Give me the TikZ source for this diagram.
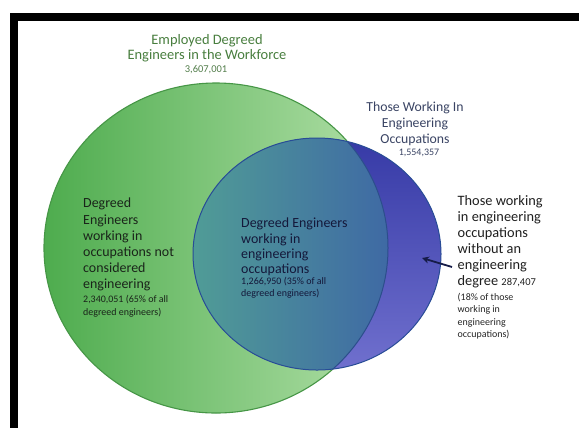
\documentclass[tikz,border=0pt]{standalone}
\usepackage{fontspec}
\setmainfont{Carlito}
\usetikzlibrary{arrows.meta}

\definecolor{gLeft}{RGB}{78,172,78}
\definecolor{gRight}{RGB}{178,224,168}
\definecolor{gEdge}{RGB}{70,150,70}
\definecolor{ovLeft}{RGB}{80,156,150}
\definecolor{ovRight}{RGB}{58,92,168}
\definecolor{crTop}{RGB}{54,58,166}
\definecolor{crMid}{RGB}{58,62,172}
\definecolor{crBot}{RGB}{112,112,206}
\definecolor{bEdge}{RGB}{40,76,150}
\definecolor{innerEdge}{RGB}{44,78,140}
\definecolor{titleGreen}{RGB}{72,126,62}
\definecolor{titleBlue}{RGB}{58,68,100}
\definecolor{darkGreenText}{RGB}{26,36,26}
\definecolor{navyText}{RGB}{20,24,58}
\definecolor{arrowNavy}{RGB}{22,28,72}

\tikzset{
  bigtext/.style={font=\fontsize{14}{16.2}\selectfont, inner sep=0pt},
  smalltext/.style={font=\fontsize{10}{12.5}\selectfont, inner sep=0pt},
  labeltext/.style={font=\fontsize{13.8}{16}\selectfont, inner sep=0pt, align=center},
}

\begin{document}
\begin{tikzpicture}[x=1bp,y=-1bp]
\useasboundingbox (0,0) rectangle (579,428);
\fill[white] (0,0) rectangle (579,428);

% black frame bars (top and left)
\fill[black] (10,13) rectangle (579,21);
\fill[black] (10,13) rectangle (18,428);

% set of all employed degreed engineers
\shade[left color=gLeft, right color=gRight] (216,248) ellipse [x radius=172bp, y radius=165bp];
\draw[gEdge, line width=1.1bp] (216,248) ellipse [x radius=172bp, y radius=165bp];

% set of those working in engineering occupations
\shade[top color=crTop, middle color=crMid, bottom color=crBot] (317,254) ellipse [x radius=124bp, y radius=116bp];

% intersection of both sets
\begin{scope}
  \clip (216,248) ellipse [x radius=172bp, y radius=165bp];
  \shade[left color=ovLeft, right color=ovRight] (317,254) ellipse [x radius=124bp, y radius=116bp];
\end{scope}

% green boundary seen through the blue set
\begin{scope}
  \clip (317,254) ellipse [x radius=124bp, y radius=116bp];
  \draw[innerEdge, line width=1bp] (216,248) ellipse [x radius=172bp, y radius=165bp];
\end{scope}
\draw[bEdge, line width=1bp] (317,254) ellipse [x radius=124bp, y radius=116bp];

% titles
\node[labeltext, font=\fontsize{14.5}{16}\selectfont, text=titleGreen, anchor=base] (titleA) at (207,44) {Employed Degreed};
\node[labeltext, font=\fontsize{14.5}{16}\selectfont, text=titleGreen, anchor=base] (titleB) at (207,59.5) {Engineers in the Workforce};
\node[smalltext, font=\fontsize{10.5}{12}\selectfont, text=titleGreen!80!gray, anchor=base] (titleN) at (206,72.5) {3,607,001};

\node[labeltext, text=titleBlue, anchor=base] (occA) at (415,111) {Those Working In};
\node[labeltext, text=titleBlue, anchor=base] (occB) at (415,127) {Engineering};
\node[labeltext, text=titleBlue, anchor=base] (occC) at (415,143) {Occupations};
\node[smalltext, text=titleBlue, anchor=base] (occN) at (419,155) {1,554,357};

% green-only region
\node[bigtext, text=darkGreenText, align=left, anchor=north west] (notEng) at (83,198)
  {Degreed\\Engineers\\working in\\occupations not\\considered\\engineering};
\node[smalltext, text=darkGreenText, align=left, anchor=north west] (notEngN) at (83,295.5)
  {2,340,051 (65\% of all\\degreed engineers)};

% intersection region
\node[bigtext, font=\fontsize{14}{15.2}\selectfont, text=navyText, align=left, anchor=north west] (inEng) at (241,218)
  {Degreed Engineers\\working in\\engineering\\occupations};
\node[smalltext, font=\fontsize{10}{11.5}\selectfont, text=navyText, align=left, anchor=north west] (inEngN) at (241,277.5)
  {1,266,950 (35\% of all\\degreed engineers)};

% blue-only region, described outside the circle
\node[bigtext, font=\fontsize{14.4}{16.2}\selectfont, text=black!88, align=left, anchor=north west] (noDeg) at (457.5,195)
  {Those working\\in engineering\\occupations\\without an\\engineering\\degree {\fontsize{10.5}{12}\selectfont 287,407}};
\node[smalltext, text=black!85, align=left, anchor=north west] (noDegN) at (457.5,293)
  {(18\% of those\\working in\\engineering\\occupations)};

% pointer into the blue-only crescent
\coordinate (ptrTail) at (452,267);
\coordinate (ptrTip) at (422,258);
\draw[arrowNavy, line width=1.8bp, -{Stealth[length=7bp, width=7bp]}] (ptrTail) -- (ptrTip);
\end{tikzpicture}
\end{document}
